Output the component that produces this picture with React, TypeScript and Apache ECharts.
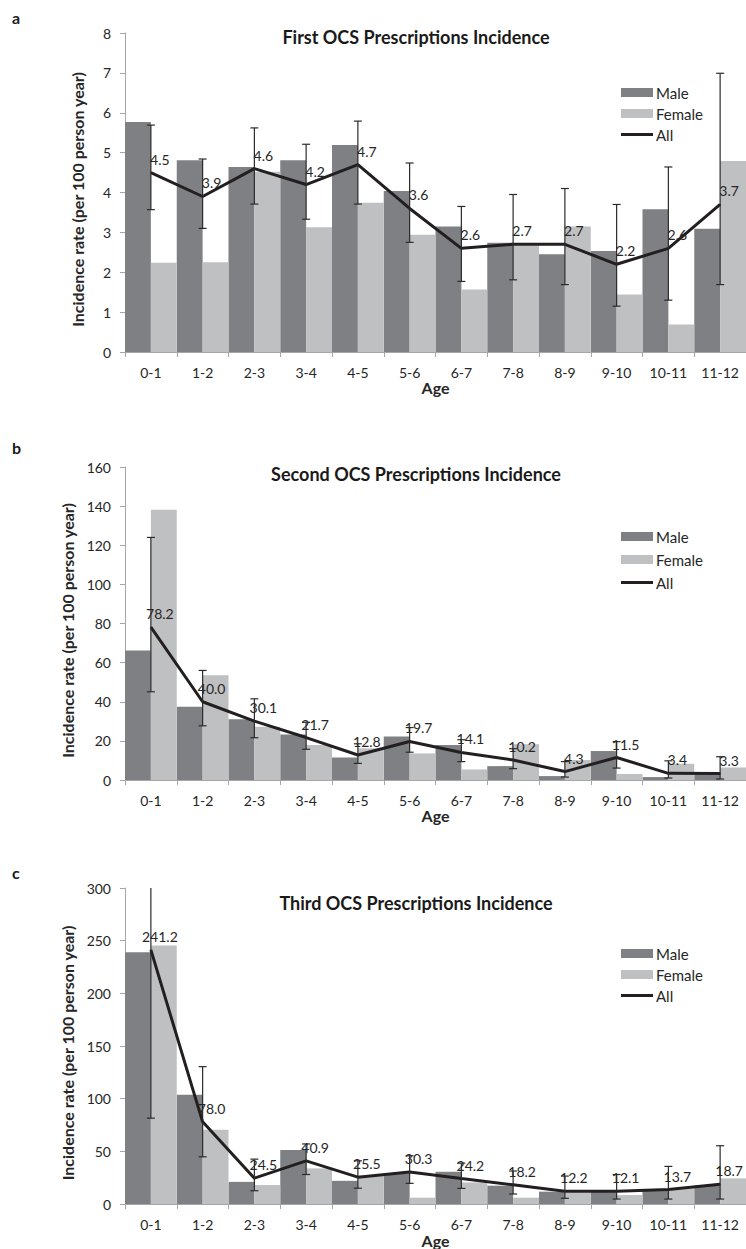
import React, { useEffect, useRef } from "react";
import * as echarts from "echarts";

const ages = ["0-1", "1-2", "2-3", "3-4", "4-5", "5-6", "6-7", "7-8", "8-9", "9-10", "10-11", "11-12"];

// Panel a: First OCS prescriptions
const firstMale = [5.77, 4.81, 4.64, 4.81, 5.19, 4.04, 3.15, 2.74, 2.45, 2.53, 3.58, 3.09];
const firstFemale = [2.24, 2.25, 4.52, 3.13, 3.74, 2.94, 1.57, 2.68, 3.15, 1.44, 0.69, 4.79];
const firstAll = [4.5, 3.9, 4.6, 4.2, 4.7, 3.6, 2.6, 2.7, 2.7, 2.2, 2.6, 3.7];
const firstLow = [3.57, 3.1, 3.71, 3.33, 3.71, 2.75, 1.77, 1.81, 1.69, 1.15, 1.3, 1.69];
const firstHigh = [5.69, 4.84, 5.62, 5.21, 5.79, 4.74, 3.65, 3.95, 4.1, 3.7, 4.64, 6.99];

// Panel b: Second OCS prescriptions
const secondMale = [66.2, 37.5, 31.0, 23.2, 11.5, 22.3, 17.9, 7.1, 2.0, 14.8, 1.5, 3.3];
const secondFemale = [138.2, 53.6, 27.2, 17.9, 16.2, 13.6, 5.4, 18.3, 10.2, 3.1, 8.3, 6.4];
const secondAll = [78.2, 40.0, 30.1, 21.7, 12.8, 19.7, 14.1, 10.2, 4.3, 11.5, 3.4, 3.3];
const secondLow = [45.1, 27.7, 21.6, 15.7, 8.5, 14.2, 9.4, 5.8, 1.5, 6.1, 1.0, 0.5];
const secondHigh = [124.0, 56.0, 41.5, 29.5, 18.5, 26.8, 20.6, 16.0, 9.4, 19.6, 9.8, 11.9];

// Panel c: Third OCS prescriptions
const thirdMale = [239.1, 103.6, 21.0, 51.3, 22.0, 29.0, 30.6, 17.4, 11.7, 11.7, 13.3, 17.4];
const thirdFemale = [245.4, 70.4, 18.0, 33.8, 27.0, 6.0, 20.5, 6.0, 11.0, 8.5, 14.8, 24.3];
const thirdAll = [241.2, 78.0, 24.5, 40.9, 25.5, 30.3, 24.2, 18.2, 12.2, 12.1, 13.7, 18.7];
const thirdLow = [81.5, 44.8, 12.6, 28.0, 15.0, 19.6, 14.8, 9.5, 5.4, 4.7, 4.7, 4.7];
const thirdHigh = [400, 130.4, 42.6, 57.0, 41.0, 45.8, 38.8, 31.3, 26.5, 28.0, 35.7, 55.3];

const panels = [
  { letter: "a", title: "First OCS Prescriptions Incidence", male: firstMale, female: firstFemale, all: firstAll, low: firstLow, high: firstHigh, max: 8, interval: 1 },
  { letter: "b", title: "Second OCS Prescriptions Incidence", male: secondMale, female: secondFemale, all: secondAll, low: secondLow, high: secondHigh, max: 160, interval: 20 },
  { letter: "c", title: "Third OCS Prescriptions Incidence", male: thirdMale, female: thirdFemale, all: thirdAll, low: thirdLow, high: thirdHigh, max: 300, interval: 50 },
];

// layout (pixels)
const layout = [
  { top: 33, height: 319, letterY: 17, titleY: 37, legendTop: 80, legendGap: 6, ageGap: 22 },
  { top: 467, height: 313, letterY: 447, titleY: 474, legendTop: 524, legendGap: 8, ageGap: 23 },
  { top: 888, height: 317, letterY: 872, titleY: 903, legendTop: 941, legendGap: 6, ageGap: 28 },
];

const MALE = "#7f8084";
const FEMALE = "#bfc0c2";
const LINE = "#231f20";
const AXIS = "#a6a6a6";
const TXT = "#262626";
const FONT = "Lato";

export default function App() {
  const ref = useRef<HTMLDivElement>(null);

  useEffect(() => {
    if (!ref.current) return;
    const chart = echarts.init(ref.current, null, { renderer: "svg" });

    const grids: any[] = [];
    const xAxes: any[] = [];
    const yAxes: any[] = [];
    const series: any[] = [];
    const legends: any[] = [];
    const graphics: any[] = [];

    panels.forEach((p, i) => {
      const L = layout[i];
      grids.push({ left: 125, width: 624, top: L.top, height: L.height });
      xAxes.push({
        type: "category",
        gridIndex: i,
        data: ages,
        name: "Age",
        nameLocation: "middle",
        nameGap: L.ageGap,
        nameTextStyle: { fontFamily: FONT, fontWeight: "bold", fontSize: 16, color: TXT },
        axisLine: { lineStyle: { color: AXIS, width: 1 } },
        axisTick: { show: true, length: 5, lineStyle: { color: AXIS }, interval: 0 },
        axisLabel: { fontFamily: FONT, fontSize: 14, color: TXT, margin: 13, interval: 0 },
        splitLine: { show: false },
      });
      yAxes.push({
        type: "value",
        gridIndex: i,
        min: 0,
        max: p.max,
        interval: p.interval,
        name: "Incidence rate (per 100 person year)",
        nameLocation: "middle",
        nameRotate: 90,
        nameGap: 40,
        nameTextStyle: { fontFamily: FONT, fontWeight: "bold", fontSize: 16, color: TXT, padding: [0, 14, 0, 0] },
        axisLine: { show: true, lineStyle: { color: AXIS, width: 1 } },
        axisTick: { show: true, length: 5, lineStyle: { color: AXIS } },
        axisLabel: { fontFamily: FONT, fontSize: 14, color: TXT, margin: 14 },
        splitLine: { show: false },
      });
      series.push({
        name: "Male",
        type: "bar",
        xAxisIndex: i,
        yAxisIndex: i,
        data: p.male,
        barGap: "0%",
        barCategoryGap: "0%",
        itemStyle: { color: MALE },
      });
      series.push({
        name: "Female",
        type: "bar",
        xAxisIndex: i,
        yAxisIndex: i,
        data: p.female,
        barGap: "0%",
        barCategoryGap: "0%",
        itemStyle: { color: FEMALE },
      });
      series.push({
        name: "All",
        type: "line",
        xAxisIndex: i,
        yAxisIndex: i,
        data: p.all,
        symbol: "circle",
        symbolSize: 1,
        showSymbol: true,
        z: 4,
        lineStyle: { color: LINE, width: 3 },
        itemStyle: { color: LINE },
        labelLayout: { dx: 9, dy: -1 },
        label: {
          show: true,
          position: "top",
          distance: 5,
          fontFamily: FONT,
          fontSize: 14,
          color: TXT,
          formatter: (d: any) => Number(d.value).toFixed(1),
        },
      });
      series.push({
        name: "error",
        type: "custom",
        xAxisIndex: i,
        yAxisIndex: i,
        z: 5,
        silent: true,
        encode: { x: 0, y: [1, 2] },
        data: p.low.map((lo, k) => [k, lo, p.high[k]]),
        renderItem: (params: any, api: any) => {
          const k = api.value(0);
          const lo = api.value(1);
          const hi = api.value(2);
          const a = api.coord([k, lo]);
          const b = api.coord([k, hi]);
          const cs = params.coordSys;
          let topY = b[1];
          let clipped = false;
          if (topY < cs.y) {
            topY = cs.y;
            clipped = true;
          }
          const w = 4;
          const st = { stroke: "#2b2b2b", lineWidth: 1.2 };
          const children: any[] = [
            { type: "line", shape: { x1: a[0], y1: a[1], x2: a[0], y2: topY }, style: st },
            { type: "line", shape: { x1: a[0] - w, y1: a[1], x2: a[0] + w, y2: a[1] }, style: st },
          ];
          if (!clipped) {
            children.push({ type: "line", shape: { x1: b[0] - w, y1: topY, x2: b[0] + w, y2: topY }, style: st });
          }
          return { type: "group", children };
        },
      });
      legends.push({
        orient: "vertical",
        left: 616,
        top: L.legendTop,
        itemWidth: 32,
        itemHeight: 9,
        itemGap: L.legendGap,
        selectedMode: false,
        data: [
          { name: "Male", icon: "rect" },
          { name: "Female", icon: "rect" },
          { name: "All", icon: "path://M0 0 H32 V3 H0 Z", itemStyle: { color: LINE } },
        ],
        textStyle: { fontFamily: FONT, fontSize: 15, color: TXT, padding: [0, 0, 0, -2] },
      });
      graphics.push({
        type: "text",
        x: 12,
        y: L.letterY,
        style: { text: p.letter, font: `bold 16px ${FONT}`, fill: "#1a1a1a", textVerticalAlign: "middle" },
      });
      graphics.push({
        type: "text",
        x: 416,
        y: L.titleY,
        style: { text: p.title, font: `bold 18px ${FONT}`, fill: "#1a1a1a", textAlign: "center", textVerticalAlign: "middle" },
      });
    });

    chart.setOption({
      animation: false,
      backgroundColor: "#ffffff",
      textStyle: { fontFamily: FONT },
      grid: grids,
      xAxis: xAxes,
      yAxis: yAxes,
      legend: legends,
      series,
      graphic: graphics,
    });

    return () => chart.dispose();
  }, []);

  return (
    <div style={{ position: "absolute", left: 0, top: 0, width: 746, height: 1249, overflow: "hidden", background: "#fff" }}>
      <div ref={ref} style={{ width: 746, height: 1249 }} />
    </div>
  );
}
